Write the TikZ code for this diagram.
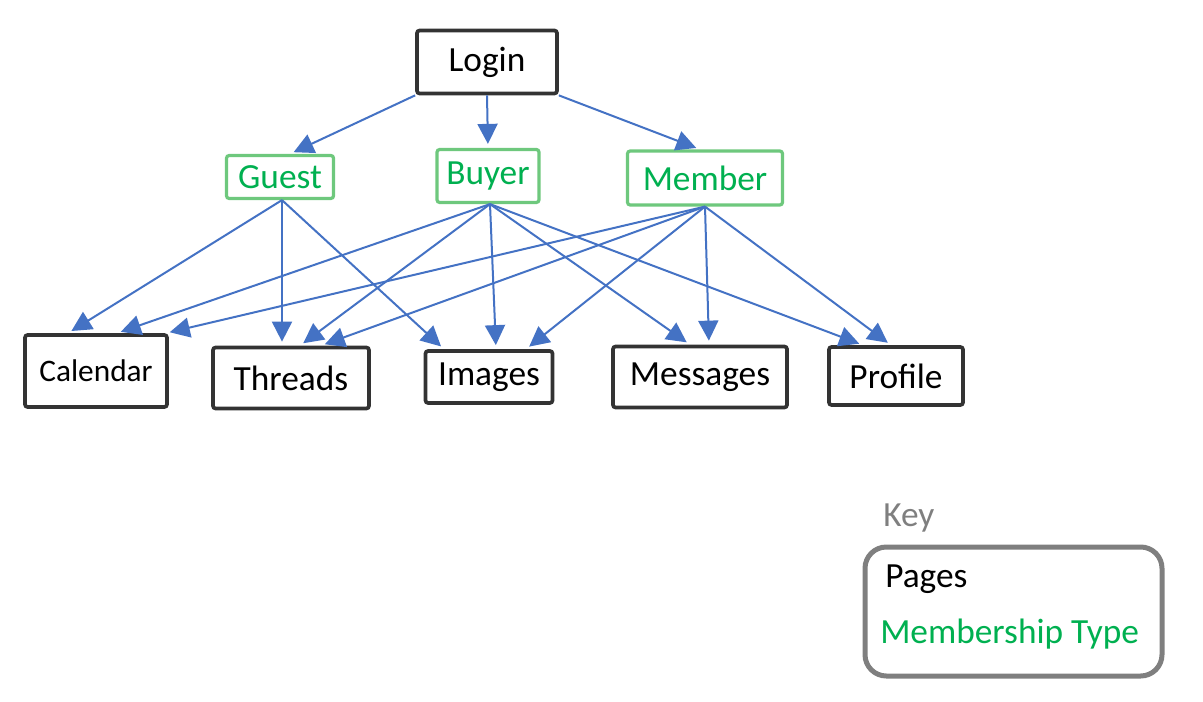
\documentclass[tikz,border=0pt]{standalone}
\usepackage{fontspec}
\setmainfont{Carlito}
\usetikzlibrary{arrows.meta}

\definecolor{linkBlue}{RGB}{68,114,196}
\definecolor{typeGreen}{RGB}{0,176,80}
\definecolor{typeBorder}{RGB}{110,200,125}
\definecolor{keyGrey}{RGB}{127,127,127}

\def\pxs{0.75pt}

\begin{document}
\begin{tikzpicture}[x=0.75pt,y=-0.75pt,
	page/.style={draw=black!80, line width=2.8pt, rounded corners=2pt, fill=white, inner sep=0pt, font=\fontsize{26.5}{29}\selectfont},
	memtype/.style={draw=typeBorder, line width=2.4pt, rounded corners=2pt, fill=white, inner sep=0pt, text=typeGreen, font=\fontsize{26.5}{29}\selectfont},
	link/.style={draw=linkBlue, line width=1.5pt, shorten >=3pt, -{Triangle[length=15pt,width=15pt]}},
	keytext/.style={inner sep=0pt, anchor=west, font=\fontsize{26.5}{29}\selectfont}]

	% frame
	\useasboundingbox (0,0) rectangle (1203,702);

	% login
	\node [page, minimum width=140*\pxs, minimum height=63*\pxs] (login) at (487,62) {Login};

	% membership types
	\node [memtype, minimum width=107*\pxs, minimum height=43*\pxs] (guest) at (280,177) {Guest};
	\node [memtype, minimum width=102*\pxs, minimum height=53*\pxs] (buyer) at (488,176) {Buyer};
	\node [memtype, minimum width=155*\pxs, minimum height=54*\pxs] (member) at (705,178) {Member};

	% pages
	\node [page, minimum width=142*\pxs, minimum height=72*\pxs, font=\fontsize{23.5}{26}\selectfont] (calendar) at (96,371) {Calendar};
	\node [page, minimum width=156*\pxs, minimum height=61*\pxs] (threads) at (291,378) {Threads};
	\node [page, minimum width=127*\pxs, minimum height=52*\pxs] (images) at (489,377) {Images};
	\node [page, minimum width=174*\pxs, minimum height=61*\pxs] (messages) at (700,377) {Messages};
	\node [page, minimum width=134*\pxs, minimum height=58*\pxs] (profile) at (896,376) {Profile};

	% login to types
	\draw [link] (login.south west) -- ([shift={(10,0)}]guest.north);
	\draw [link] (login.south) -- (buyer.north);
	\draw [link] (login.south east) -- ([shift={(-5,0)}]member.north);

	% guest
	\draw [link] ([shift={(2,0)}]guest.south) -- ([shift={(-28,0)}]calendar.north);
	\draw [link] ([shift={(2,0)}]guest.south) -- ([shift={(-9,0)}]threads.north);
	\draw [link] ([shift={(2,0)}]guest.south) -- ([shift={(-45,0)}]images.north);

	% buyer
	\draw [link] ([shift={(2,0)}]buyer.south) -- ([shift={(21,0)}]calendar.north);
	\draw [link] ([shift={(2,0)}]buyer.south) -- ([shift={(9,0)}]threads.north);
	\draw [link] ([shift={(2,0)}]buyer.south) -- ([shift={(7,0)}]images.north);
	\draw [link] ([shift={(2,0)}]buyer.south) -- ([shift={(-10,0)}]messages.north);
	\draw [link] ([shift={(2,0)}]buyer.south) -- ([shift={(-33,0)}]profile.north);

	% member
	\draw [link] (member.south) -- ([shift={(-3,0)}]calendar.north east);
	\draw [link] (member.south) -- ([shift={(30,0)}]threads.north);
	\draw [link] (member.south) -- ([shift={(37,0)}]images.north);
	\draw [link] (member.south) -- ([shift={(9,0)}]messages.north);
	\draw [link] (member.south) -- ([shift={(-5,0)}]profile.north);

	% key
	\node [keytext, text=keyGrey] (keyLabel) at (883,518) {Key};
	\node [draw=keyGrey, line width=3.75pt, rounded corners=16pt, minimum width=297*\pxs, minimum height=129*\pxs] (keyBox) at (1013.5,611.5) {};
	\node [keytext] (keyPages) at (885,579) {Pages};
	\node [keytext, text=typeGreen] (keyTypes) at (880,634) {Membership Type};

\end{tikzpicture}
\end{document}
